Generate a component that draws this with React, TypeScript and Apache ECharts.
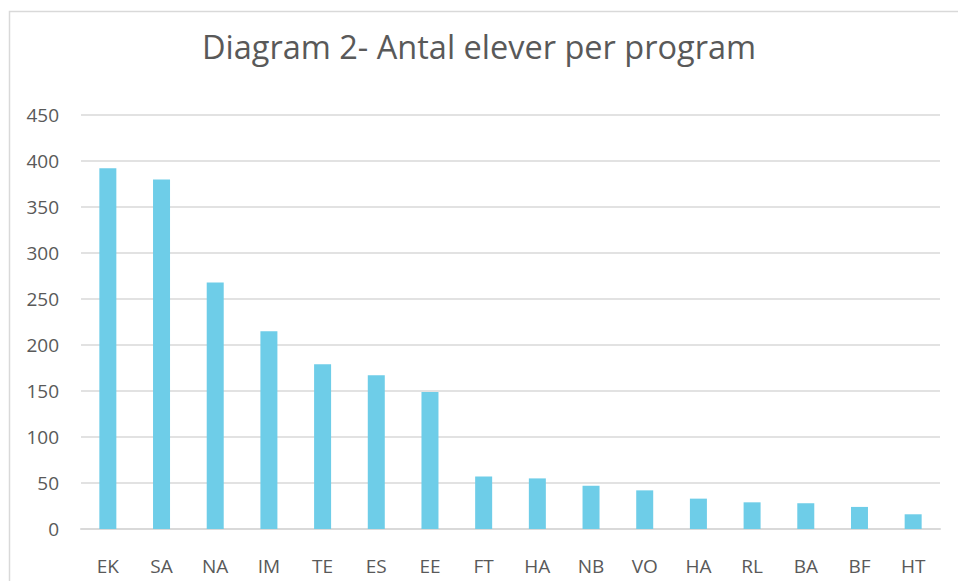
import React, { useEffect, useRef } from "react";
import * as echarts from "echarts";

const categories = ["EK", "SA", "NA", "IM", "TE", "ES", "EE", "FT", "HA", "NB", "VO", "HA ", "RL", "BA", "BF", "HT"];
const values = [392, 380, 268, 215, 179, 167, 149, 57, 55, 47, 42, 33, 29, 28, 24, 16];
const yTicks = { min: 0, max: 450, interval: 50 };
const titleText = "Diagram 2- Antal elever per program";

export default function App() {
  const ref = useRef<HTMLDivElement>(null);
  useEffect(() => {
    if (!ref.current) return;
    const chart = echarts.init(ref.current, null, { renderer: "svg" });
    const font = "'Open Sans', 'Liberation Sans', sans-serif";
    chart.setOption({
      animation: false,
      backgroundColor: "#ffffff",
      textStyle: { fontFamily: font },
      title: {
        text: titleText,
        left: "center",
        top: 25,
        padding: [5, 0, 5, 12],
        textStyle: { fontFamily: font, fontSize: 32.5, fontWeight: "normal", color: "#595959" },
      },
      graphic: [
        {
          type: "rect",
          shape: { x: 9.5, y: 11.5, width: 1100, height: 1000 },
          style: { fill: "none", stroke: "#d9d9d9", lineWidth: 1.5 },
          silent: true,
        },
      ],
      grid: { left: 81, right: 18, top: 115, bottom: 52, containLabel: false },
      xAxis: {
        type: "category",
        data: categories,
        axisLine: { show: true, lineStyle: { color: "#d9d9d9", width: 2 } },
        axisTick: { show: false },
        axisLabel: {
          color: "#595959",
          fontSize: 19,
          fontFamily: font,
          margin: 27,
          interval: 0,
          formatter: (v: string) => v.trim(),
        },
      },
      yAxis: {
        type: "value",
        min: yTicks.min,
        max: yTicks.max,
        interval: yTicks.interval,
        axisLine: { show: false },
        axisTick: { show: false },
        splitLine: { lineStyle: { color: "#d9d9d9", width: 1.5 } },
        axisLabel: {
          color: "#595959",
          fontSize: 19,
          fontFamily: font,
          margin: 22,
          padding: [10, 0, 0, 0],
        },
      },
      series: [
        {
          type: "bar",
          data: values,
          barWidth: 17,
          itemStyle: { color: "#6ECDE8" },
        },
      ],
    });
    return () => chart.dispose();
  }, []);
  return (
    <div
      ref={ref}
      style={{ position: "fixed", left: 0, top: 0, width: 958, height: 581 }}
    />
  );
}
